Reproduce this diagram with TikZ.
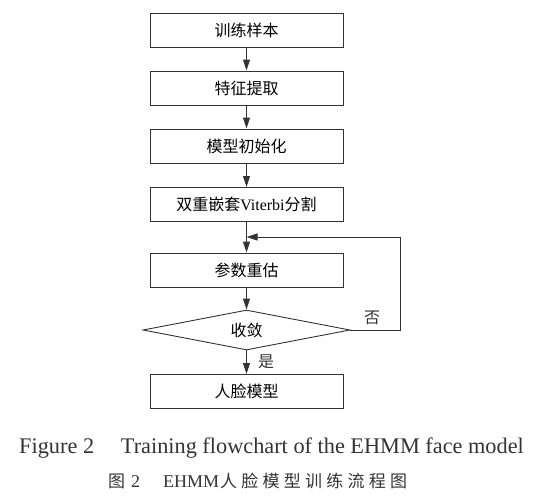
\documentclass[tikz,border=0pt]{standalone}
\usepackage{fontspec}
\setmainfont{Liberation Serif}
\newfontfamily\cjk{Noto Sans CJK SC}
\newfontfamily\cjkwide[LetterSpace=25]{Noto Sans CJK SC}
\usetikzlibrary{arrows.meta,shapes.geometric}
\definecolor{ink}{HTML}{333333}
\begin{document}
\begin{tikzpicture}[x=1pt,y=-1pt,
  box/.style={draw=ink,line width=0.9pt,minimum width=193pt,minimum height=34pt,inner sep=0pt,font=\fontsize{16}{16}\selectfont},
  arr/.style={draw=ink,line width=1pt,-{Triangle[length=11pt,width=7pt]}},
  lab/.style={font=\fontsize{16}{16}\selectfont,text=ink}]
\path[use as bounding box] (0,0) rectangle (544,499);
\node[box] (b1) at (246.5,30) {\cjk 训练样本};
\node[box] (b2) at (246.5,88) {\cjk 特征提取};
\node[box] (b3) at (246.5,146) {\cjk 模型初始化};
\node[box] (b4) at (246.5,204.5) {{\cjk 双重嵌套}Viterbi{\cjk 分割}};
\node[box] (b5) at (246.5,270) {\cjk 参数重估};
\node[diamond,draw=ink,line width=0.9pt,aspect=5,inner sep=0pt,minimum width=207pt,minimum height=40pt,font=\fontsize{16}{16}\selectfont] (d) at (246.5,330) {\cjk 收敛};
\node[box] (b6) at (246.5,391.5) {\cjk 人脸模型};
\draw[arr] (b1) -- (b2);
\draw[arr] (b2) -- (b3);
\draw[arr] (b3) -- (b4);
\draw[arr] (b4) -- (b5);
\draw[arr] (b5) -- (d);
\draw[arr] (d) -- (b6);
\coordinate (r) at (400,330);
\coordinate (j) at (246.5,237);
\draw[arr] (d.east) -- (r) |- (j);
\node[lab] (no) at (372,318) {\cjk 否};
\node[lab] (yes) at (266,362) {\cjk 是};
\node[anchor=base west,inner sep=0pt,font=\fontsize{22.3}{22.3}\selectfont,text=ink] (c1) at (19,453) {Figure 2\hspace{1.2em}Training flowchart of the EHMM face model};
\node[anchor=base west,font=\fontsize{17}{17}\selectfont,text=ink,inner sep=0pt] (c2a) at (108,487) {\cjk 图};
\node[anchor=base west,font=\fontsize{18}{18}\selectfont,text=ink,inner sep=0pt] (c2b) at (131,487) {2};
\node[anchor=base west,font=\fontsize{18}{18}\selectfont,text=ink,inner sep=0pt] (c2c) at (163,487) {EHMM};
\node[anchor=base west,font=\fontsize{17}{17}\selectfont,text=ink,inner sep=0pt] (c2d) at (220,487) {\cjkwide 人脸模型训练流程图};
\end{tikzpicture}
\end{document}
